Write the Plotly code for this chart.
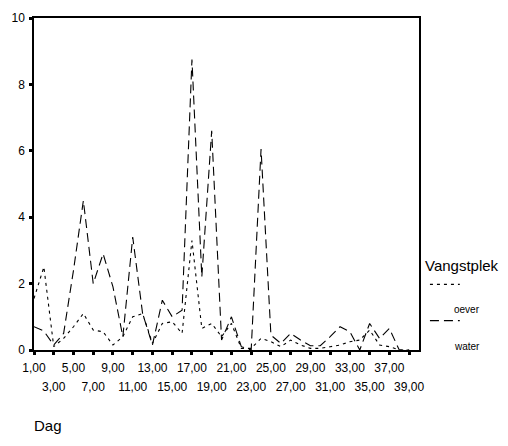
import plotly.graph_objects as go

days = list(range(1, 40))
water = [0.7, 0.57, 0.15, 0.5, 2.4, 4.5, 2.0, 2.9, 1.9, 0.4,
         3.4, 1.1, 0.15, 1.5, 1.0, 1.2, 8.75, 2.2, 6.6, 0.3,
         1.0, 0.1, 0.0, 6.05, 0.45, 0.2, 0.5, 0.3, 0.13, 0.13,
         0.4, 0.7, 0.55, 0.0, 0.8, 0.35, 0.65, 0.0, 0.0]
oever = [1.55, 2.5, 0.1, 0.35, 0.7, 1.1, 0.6, 0.55, 0.15, 0.4,
         1.0, 1.1, 0.2, 0.8, 0.85, 0.5, 3.3, 0.65, 0.8, 0.4,
         0.8, 0.05, 0.05, 0.35, 0.25, 0.1, 0.3, 0.15, 0.05, 0.05,
         0.1, 0.15, 0.25, 0.3, 0.6, 0.15, 0.1, 0.0, 0.0]

tick_days = list(range(1, 40, 2))
row1_days = tick_days[0::2]
row2_days = tick_days[1::2]
def lab(d):
    return f"{d},00"
y_ticks = [0, 2, 4, 6, 8, 10]

legend_title = "Vangstplek"
series_names = ["oever", "water"]
x_title = "Dag"

FONT = "Liberation Sans, Arial, sans-serif"
DASH_OEVER = "3px,4px"
DASH_WATER = "9px,5px"

fig = go.Figure()
fig.add_trace(go.Scatter(x=days, y=oever, mode="lines", name=series_names[0],
                         line=dict(color="black", width=1.1, dash=DASH_OEVER)))
fig.add_trace(go.Scatter(x=days, y=water, mode="lines", name=series_names[1],
                         line=dict(color="black", width=1.1, dash=DASH_WATER)))
fig.add_trace(go.Scatter(x=days, y=[None] * len(days), xaxis="x2", mode="lines",
                         showlegend=False, hoverinfo="skip"))

W, H = 508, 446
L, R, T, B = 32, 89, 11, 96
pw, ph = W - L - R, H - T - B

def px_x(p):
    return (p - L) / pw

def px_y(p):
    return (H - B - p) / ph

fig.update_layout(
    width=W, height=H,
    margin=dict(l=L, r=R, t=T, b=B),
    paper_bgcolor="white", plot_bgcolor="white",
    showlegend=False,
    font=dict(family=FONT, color="black", size=12),
    xaxis=dict(range=[1, 40], tickmode="array", tickvals=tick_days,
               ticktext=[lab(d) if d in row1_days else "" for d in tick_days],
               ticks="outside", ticklen=3, tickwidth=2.5, tickcolor="black",
               showline=True, mirror=True, linecolor="black", linewidth=1.5,
               showgrid=False, zeroline=False, ticklabelstandoff=3,
               tickfont=dict(family=FONT, size=12, color="black")),
    xaxis2=dict(range=[1, 40], overlaying="x", anchor="y", side="bottom",
                tickmode="array", tickvals=row2_days,
                ticktext=[lab(d) for d in row2_days],
                ticks="", showline=False, showgrid=False, zeroline=False,
                ticklabelstandoff=28,
                tickfont=dict(family=FONT, size=12, color="black")),
    yaxis=dict(range=[0, 10], tickmode="array", tickvals=y_ticks,
               ticktext=[str(v) for v in y_ticks],
               ticks="outside", ticklen=3, tickwidth=2.5, tickcolor="black",
               showline=True, mirror=True, linecolor="black", linewidth=1.5,
               showgrid=False, zeroline=False, ticklabelstandoff=2,
               tickfont=dict(family=FONT, size=12, color="black")),
)

ann = [
    dict(text=x_title, x=px_x(30), y=px_y(427), xanchor="left", yanchor="middle",
         font=dict(family=FONT, size=15)),
    dict(text=legend_title, x=px_x(423), y=px_y(264), xanchor="left", yanchor="middle",
         font=dict(family=FONT, size=15)),
    dict(text=series_names[0], x=px_x(452), y=px_y(309), xanchor="left", yanchor="middle",
         font=dict(family=FONT, size=10)),
    dict(text=series_names[1], x=px_x(452), y=px_y(346), xanchor="left", yanchor="middle",
         font=dict(family=FONT, size=10)),
]
for a in ann:
    a.update(xref="paper", yref="paper", showarrow=False)
fig.update_layout(annotations=ann)

fig.add_shape(type="line", xref="paper", yref="paper",
              x0=px_x(430), x1=px_x(460), y0=px_y(283), y1=px_y(283),
              line=dict(color="black", width=1.2, dash=DASH_OEVER))
fig.add_shape(type="line", xref="paper", yref="paper",
              x0=px_x(430), x1=px_x(460), y0=px_y(320), y1=px_y(320),
              line=dict(color="black", width=1.2, dash=DASH_WATER))

fig.write_html("out.html")
